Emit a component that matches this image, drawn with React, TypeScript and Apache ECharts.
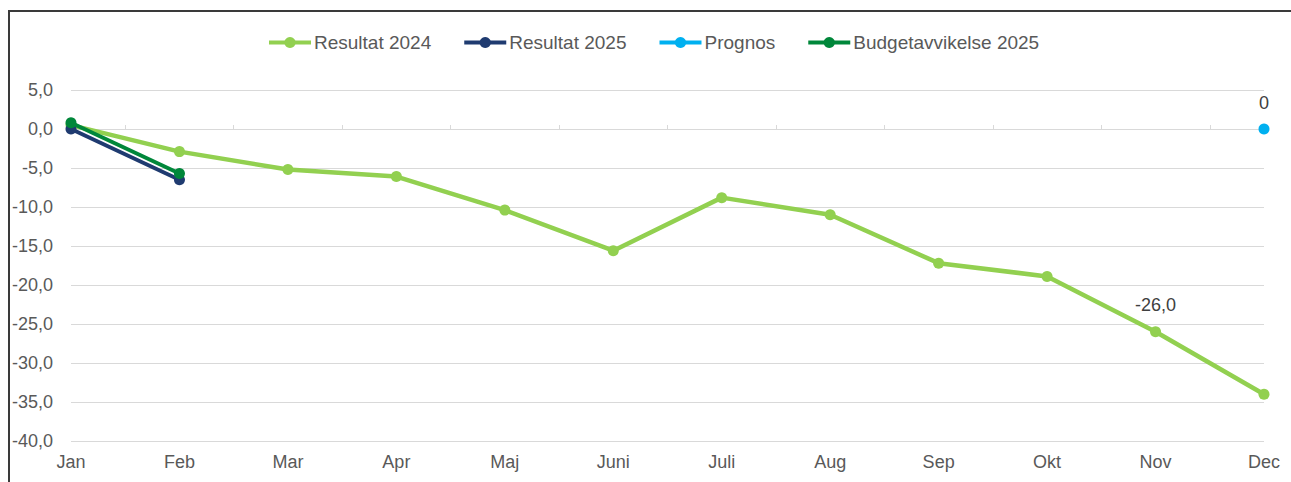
import React, { useEffect, useRef } from "react";
import * as echarts from "echarts";

const months = ["Jan", "Feb", "Mar", "Apr", "Maj", "Juni", "Juli", "Aug", "Sep", "Okt", "Nov", "Dec"];
const resultat2024 = [0.5, -2.9, -5.2, -6.1, -10.4, -15.6, -8.8, -11.0, -17.2, -18.9, -26.0, -34.0];
const resultat2025 = [0.0, -6.5, null, null, null, null, null, null, null, null, null, null];
const prognos = [null, null, null, null, null, null, null, null, null, null, null, 0];
const budget2025 = [0.8, -5.7, null, null, null, null, null, null, null, null, null, null];
const labelled2024 = 10; // Nov
const halfSteps = Array.from({ length: months.length * 2 - 1 }, (_, i) => String(i));

const fmt = (v: number) => v.toFixed(1).replace(".", ",");
const FONT = "'Liberation Sans', Arial, sans-serif";
const TXT = "#595959";

export default function App() {
  const ref = useRef<HTMLDivElement>(null);
  useEffect(() => {
    const chart = echarts.init(ref.current!, null, { renderer: "svg" });
    const lineSeries = (name: string, data: (number | null)[], color: string, width: number, z: number) => ({
      name,
      type: "line",
      data,
      xAxisIndex: 0,
      color,
      symbol: "circle",
      symbolSize: 11,
      z,
      lineStyle: { width, color },
      itemStyle: { color },
      connectNulls: false,
    });
    const s2024: any = lineSeries("Resultat 2024", resultat2024, "#92d050", 4.5, 2);
    s2024.data = resultat2024.map((v, i) =>
      i === labelled2024
        ? { value: v, label: { show: true, position: "top", distance: 12, formatter: (p: any) => fmt(p.value), color: "#404040", fontSize: 18, fontFamily: FONT } }
        : v
    );
    const sProg: any = lineSeries("Prognos", prognos, "#00b0f0", 4, 4);
    sProg.label = { show: true, position: "top", distance: 12, formatter: (p: any) => String(p.value), color: "#404040", fontSize: 18, fontFamily: FONT };
    chart.setOption({
      animation: false,
      textStyle: { fontFamily: FONT },
      grid: { left: 71, right: 27, top: 90, bottom: 41, containLabel: false },
      legend: {
        top: 33,
        left: 267,
        padding: 0,
        itemWidth: 42,
        itemHeight: 14,
        itemGap: 31,
        lineStyle: { width: 4 },
        textStyle: { color: TXT, fontSize: 19, fontFamily: FONT, padding: [0, 0, 0, -2] },
        data: ["Resultat 2024", "Resultat 2025", "Prognos", "Budgetavvikelse 2025"],
      },
      xAxis: [
        {
          type: "category",
          data: months,
          boundaryGap: false,
          axisLine: { show: false, onZero: false },
          axisTick: { show: false },
          axisLabel: { color: TXT, fontSize: 18, fontFamily: FONT, margin: 12 },
          splitLine: { show: false },
        },
        {
          type: "category",
          data: halfSteps,
          boundaryGap: false,
          position: "bottom",
          axisLine: { show: true, onZero: true, lineStyle: { color: "#d9d9d9", width: 1 } },
          axisTick: { show: true, inside: true, length: 4, interval: (i: number) => i % 2 === 1, lineStyle: { color: "#d9d9d9" } },
          axisLabel: { show: false },
          splitLine: { show: false },
        },
      ],
      yAxis: {
        type: "value",
        min: -40,
        max: 5,
        interval: 5,
        axisLine: { show: false },
        axisTick: { show: false },
        axisLabel: { color: TXT, fontSize: 18, fontFamily: FONT, margin: 18, formatter: (v: number) => fmt(v) },
        splitLine: { lineStyle: { color: "#d9d9d9", width: 1 } },
      },
      graphic: [
        { type: "line", shape: { x1: 9, y1: 11, x2: 9, y2: 482 }, style: { stroke: "#3a3a3a", lineWidth: 2 } },
        { type: "line", shape: { x1: 8, y1: 11, x2: 1291, y2: 11 }, style: { stroke: "#3a3a3a", lineWidth: 2 } },
      ],
      series: [
        s2024,
        lineSeries("Resultat 2025", resultat2025, "#1f3b70", 4, 3),
        sProg,
        lineSeries("Budgetavvikelse 2025", budget2025, "#00873a", 4, 5),
      ],
    });
    return () => chart.dispose();
  }, []);
  return <div ref={ref} style={{ position: "fixed", left: 0, top: 0, width: 1291, height: 482, background: "#fff" }} />;
}
